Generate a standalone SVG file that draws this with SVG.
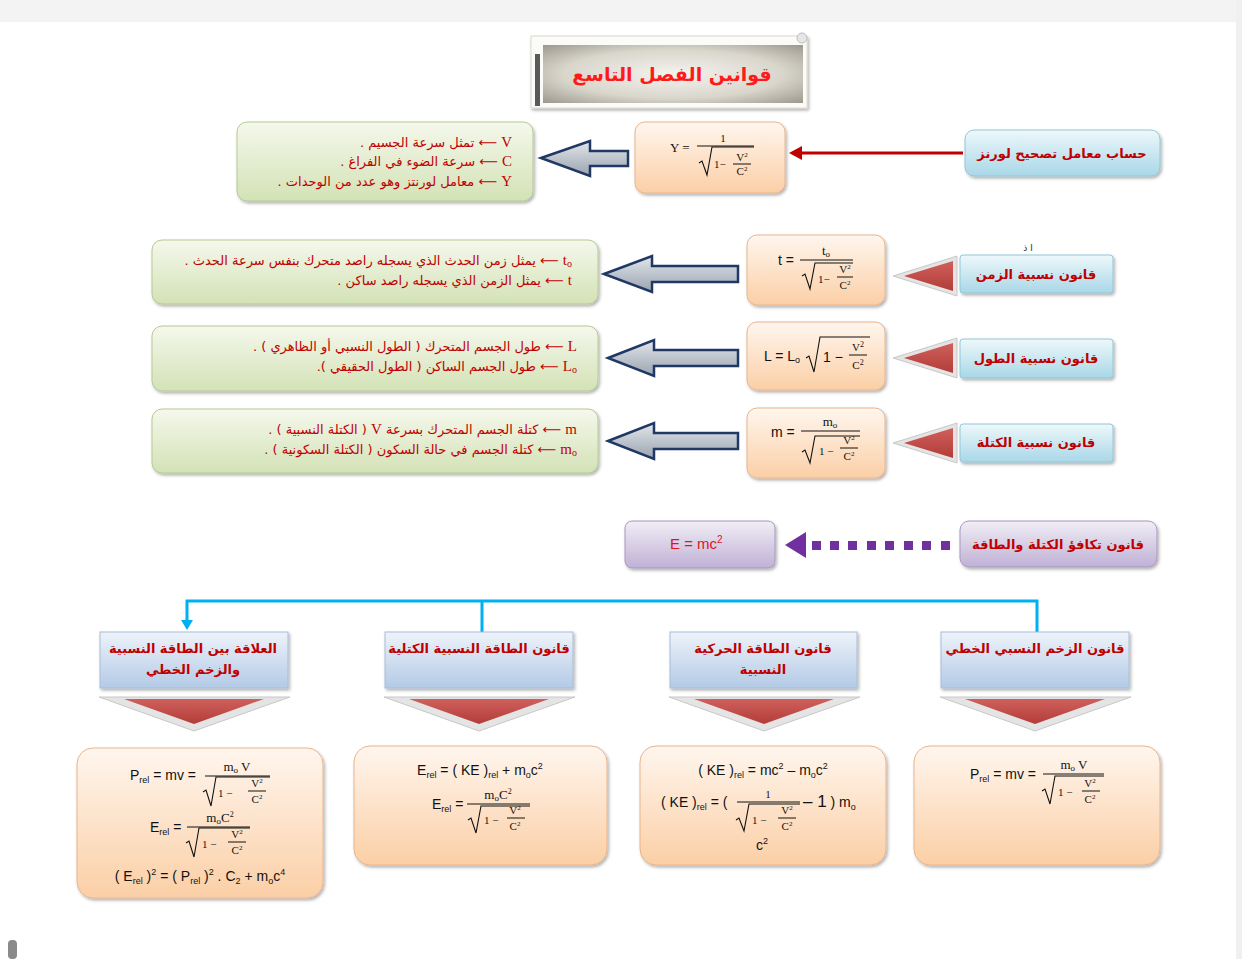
<svg xmlns="http://www.w3.org/2000/svg" width="1242" height="959" viewBox="0 0 1242 959">
<style>
.ar{font-family:"DejaVu Sans",sans-serif;}
.lbl{font-family:"DejaVu Sans",sans-serif;font-weight:bold;font-size:13px;fill:#c00000;text-anchor:middle;}
.desc{font-family:"DejaVu Sans",sans-serif;font-size:13px;fill:#c00000;}
.sym{font-family:"Liberation Serif",serif;font-size:15px;}
.f{font-family:"Liberation Sans",sans-serif;font-size:14px;fill:#111;}
.fs{font-family:"Liberation Serif",serif;font-size:13px;fill:#111;}
.fss{font-family:"Liberation Serif",serif;font-size:11px;fill:#111;}
.rad{fill:none;stroke:#111;stroke-width:1.1;}
.bar{stroke:#111;stroke-width:1;}
.peach{fill:url(#gPeach);stroke:#e9b48c;stroke-width:1;filter:url(#sh);}
.green{fill:url(#gGreen);stroke:#b7c994;stroke-width:1;filter:url(#sh);}
.blue{fill:url(#gBlue);stroke:#92c6d8;stroke-width:1;filter:url(#sh);}
.hdr{fill:url(#gHdr);stroke:#a7bcd8;stroke-width:1;filter:url(#sh);}
.purple{fill:url(#gPurple);stroke:#a897c0;stroke-width:1;filter:url(#sh);}
.hollow{fill:url(#gArrow);stroke:#1f3864;stroke-width:2.5;stroke-linejoin:miter;}
.tri-bg{fill:#e4e4e4;stroke:#c8c8c8;stroke-width:1;}
.tri{fill:url(#gRed);}
.conn{stroke:#00b0f0;stroke-width:3;fill:none;}
</style>
<defs>
<filter id="sh" x="-10%" y="-10%" width="125%" height="135%">
<feDropShadow dx="1.5" dy="2" stdDeviation="1.5" flood-color="#000" flood-opacity="0.3"/>
</filter>
<linearGradient id="gPeach" x1="0" y1="0" x2="0" y2="1"><stop offset="0" stop-color="#fff6ee"/><stop offset="1" stop-color="#fbcfa6"/></linearGradient>
<linearGradient id="gGreen" x1="0" y1="0" x2="0" y2="1"><stop offset="0" stop-color="#f5f8ec"/><stop offset="1" stop-color="#d3e2b6"/></linearGradient>
<linearGradient id="gBlue" x1="0" y1="0" x2="0" y2="1"><stop offset="0" stop-color="#eef8fb"/><stop offset="1" stop-color="#a9d7e7"/></linearGradient>
<linearGradient id="gHdr" x1="0" y1="0" x2="0" y2="1"><stop offset="0" stop-color="#eef3fa"/><stop offset="1" stop-color="#b3cae6"/></linearGradient>
<linearGradient id="gPurple" x1="0" y1="0" x2="0" y2="1"><stop offset="0" stop-color="#f1eef6"/><stop offset="1" stop-color="#bfb1d5"/></linearGradient>
<linearGradient id="gArrow" x1="0" y1="0" x2="0" y2="1"><stop offset="0" stop-color="#e3e6ea"/><stop offset="1" stop-color="#9aa3b0"/></linearGradient>
<linearGradient id="gRed" x1="0" y1="0" x2="0" y2="1"><stop offset="0" stop-color="#d0605c"/><stop offset="1" stop-color="#b23c38"/></linearGradient>
<radialGradient id="gTitle" cx="0.5" cy="0.5" r="0.7"><stop offset="0" stop-color="#f4f3ee"/><stop offset="0.6" stop-color="#d9d6cc"/><stop offset="1" stop-color="#9d998e"/></radialGradient>
</defs>

<!-- page -->
<rect x="0" y="0" width="1242" height="959" fill="#ffffff"/>
<rect x="0" y="0" width="1242" height="22" fill="#f3f3f3"/>
<rect x="1236" y="0" width="6" height="959" fill="#f0f0f0"/>
<rect x="8" y="940" width="9" height="19" rx="4" fill="#8a8a8a"/>

<!-- title -->
<g id="title">
<rect x="531" y="36" width="276" height="72" fill="#fbfbf8" stroke="#dcd8cf" stroke-width="1" filter="url(#sh)"/>
<rect x="543" y="45" width="260" height="58" fill="url(#gTitle)"/>
<rect x="535" y="54" width="5" height="52" fill="#5a5a5a"/>
<circle cx="802" cy="38" r="5" fill="#e6e6e6" stroke="#bdbdbd"/>
<text x="672" y="81" class="ar" direction="rtl" text-anchor="middle" font-size="19" font-weight="bold" fill="#ff1a1a">قوانين الفصل التاسع</text>
</g>

<!-- connectors -->
<g id="connectors">
<line x1="963" y1="153" x2="800" y2="153" stroke="#c00000" stroke-width="3"/>
<polygon points="789,153 802,146 802,160" fill="#c00000"/>
<polygon class="hollow" points="541,158 590,141 590,151 628,151 628,166 590,166 590,176"/>
<polygon class="hollow" points="604,274 652,256 652,266 738,266 738,282 652,282 652,292"/>
<polygon class="hollow" points="608,358 654,340 654,350 738,350 738,366 654,366 654,376"/>
<polygon class="hollow" points="608,441 654,423 654,433 738,433 738,449 654,449 654,459"/>
<polygon class="tri-bg" points="893,276 957,256 957,296"/>
<polygon class="tri" points="904,276 953,261 953,291"/>
<polygon class="tri-bg" points="893,358 957,338 957,378"/>
<polygon class="tri" points="904,358 953,343 953,373"/>
<polygon class="tri-bg" points="893,443 957,423 957,463"/>
<polygon class="tri" points="904,443 953,428 953,458"/>
<g fill="#7030a0">
<polygon points="785,545 806,532 806,558"/>
<rect x="812" y="541" width="9" height="9"/>
<rect x="830" y="541" width="9" height="9"/>
<rect x="848" y="541" width="9" height="9"/>
<rect x="867" y="541" width="9" height="9"/>
<rect x="885" y="541" width="9" height="9"/>
<rect x="904" y="541" width="9" height="9"/>
<rect x="922" y="541" width="9" height="9"/>
<rect x="941" y="541" width="9" height="9"/>
</g>
<polyline class="conn" points="187,622 187,601 1037,601 1037,632"/>
<line class="conn" x1="482" y1="601" x2="482" y2="632"/>
<polygon points="181,620 193,620 187,630" fill="#00b0f0"/>
<polygon class="tri-bg" points="99,697 290,697 194,731"/>
<polygon class="tri" points="124,699 264,699 194,724"/>
<polygon class="tri-bg" points="384,697 575,697 479,731"/>
<polygon class="tri" points="409,699 549,699 479,724"/>
<polygon class="tri-bg" points="669,697 860,697 764,731"/>
<polygon class="tri" points="694,699 834,699 764,724"/>
<polygon class="tri-bg" points="940,697 1131,697 1035,731"/>
<polygon class="tri" points="965,699 1105,699 1035,724"/>
</g>

<!-- row 1 -->
<g id="lorentz-label">
<rect class="blue" x="965" y="130" width="195" height="46" rx="9"/>
<text class="lbl" x="1062" y="158" direction="rtl">حساب معامل تصحيح لورنز</text>
</g>
<g id="lorentz-formula">
<rect class="peach" x="635" y="122" width="150" height="71" rx="10"/>
<text class="fs" x="670" y="152" font-size="15">Υ =</text>
<text class="fss" x="723" y="142" text-anchor="middle">1</text>
<path class="rad" d="M699,163 l3,-2 l5,14 l5,-28 h42"/>
<line class="bar" x1="697" y1="146" x2="754" y2="146"/>
<text class="fss" x="714" y="168">1−</text>
<text class="fss" x="742" y="161" text-anchor="middle" font-size="10">V<tspan baseline-shift="4" font-size="7">2</tspan></text>
<line class="bar" x1="733" y1="164" x2="751" y2="164"/>
<text class="fss" x="742" y="175" text-anchor="middle" font-size="10">C<tspan baseline-shift="4" font-size="7">2</tspan></text>
</g>
<g id="lorentz-desc">
<rect class="green" x="237" y="122" width="296" height="79" rx="10"/>
<text class="desc" x="512" y="147" direction="rtl" text-anchor="start"><tspan class="sym">V</tspan> ⟵ تمثل سرعة الجسيم .</text>
<text class="desc" x="512" y="166" direction="rtl" text-anchor="start"><tspan class="sym">C</tspan> ⟵ سرعة الضوء في الفراغ .</text>
<text class="desc" x="512" y="186" direction="rtl" text-anchor="start"><tspan class="sym">Υ</tspan> ⟵ معامل لورنتز وهو عدد من الوحدات .</text>
</g>

<!-- row 2 -->
<g id="time-label">
<text class="ar" x="1028" y="251" font-size="9" fill="#222" text-anchor="middle">ا ذ</text>
<rect class="blue" x="960" y="255" width="153" height="38" rx="3"/>
<text class="lbl" x="1036" y="279" direction="rtl">قانون نسبية الزمن</text>
</g>
<g id="time-formula">
<rect class="peach" x="747" y="235" width="138" height="70" rx="10"/>
<text class="f" x="778" y="265">t =</text>
<text class="fs" x="826" y="255" text-anchor="middle">t<tspan baseline-shift="-2" font-size="9">o</tspan></text>
<line class="bar" x1="800" y1="260" x2="853" y2="260"/>
<path class="rad" d="M802,276 l3,-2 l5,15 l5,-26 h38"/>
<text class="fss" x="818" y="283">1−</text>
<text class="fss" x="845" y="273" text-anchor="middle" font-size="10">V<tspan baseline-shift="4" font-size="7">2</tspan></text>
<line class="bar" x1="837" y1="277" x2="853" y2="277"/>
<text class="fss" x="845" y="289" text-anchor="middle" font-size="10">C<tspan baseline-shift="4" font-size="7">2</tspan></text>
</g>
<g id="time-desc">
<rect class="green" x="152" y="240" width="446" height="64" rx="10"/>
<text class="desc" x="572" y="265" direction="rtl" text-anchor="start"><tspan class="sym">t<tspan font-size="10" baseline-shift="-2">o</tspan></tspan> ⟵ يمثل زمن الحدث الذي يسجله راصد متحرك بنفس سرعة الحدث .</text>
<text class="desc" x="572" y="285" direction="rtl" text-anchor="start"><tspan class="sym">t</tspan> ⟵ يمثل الزمن الذي يسجله راصد ساكن .</text>
</g>

<!-- row 3 -->
<g id="length-label">
<rect class="blue" x="960" y="339" width="153" height="39" rx="3"/>
<text class="lbl" x="1036" y="363" direction="rtl">قانون نسبية الطول</text>
</g>
<g id="length-formula">
<rect class="peach" x="747" y="322" width="138" height="68" rx="10"/>
<text class="f" x="764" y="361">L = L<tspan baseline-shift="-2" font-size="9">o</tspan></text>
<path class="rad" d="M806,358 l3,-2 l5,16 l6,-35 h50"/>
<text class="f" x="823" y="362" font-size="18">1 −</text>
<text class="fss" x="858" y="351" text-anchor="middle" font-size="11">V<tspan baseline-shift="4" font-size="8">2</tspan></text>
<line class="bar" x1="849" y1="355" x2="867" y2="355"/>
<text class="fss" x="858" y="369" text-anchor="middle" font-size="11">C<tspan baseline-shift="4" font-size="8">2</tspan></text>
</g>
<g id="length-desc">
<rect class="green" x="152" y="326" width="446" height="65" rx="10"/>
<text class="desc" x="577" y="351" direction="rtl" text-anchor="start"><tspan class="sym">L</tspan>  ⟵ طول الجسم المتحرك ( الطول النسبي أو الظاهري ) .</text>
<text class="desc" x="577" y="371" direction="rtl" text-anchor="start"><tspan class="sym">L<tspan font-size="10" baseline-shift="-2">o</tspan></tspan> ⟵ طول الجسم الساكن ( الطول الحقيقي ).</text>
</g>

<!-- row 4 -->
<g id="mass-label">
<rect class="blue" x="960" y="424" width="153" height="38" rx="3"/>
<text class="lbl" x="1036" y="447" direction="rtl">قانون نسبية الكتلة</text>
</g>
<g id="mass-formula">
<rect class="peach" x="747" y="408" width="138" height="70" rx="10"/>
<text class="f" x="771" y="437">m =</text>
<text class="fs" x="830" y="426" text-anchor="middle">m<tspan baseline-shift="-2" font-size="9">o</tspan></text>
<line class="bar" x1="801" y1="431" x2="860" y2="431"/>
<path class="rad" d="M802,452 l3,-2 l5,13 l5,-27 h45"/>
<text class="fss" x="819" y="455">1  −</text>
<text class="fss" x="849" y="444" text-anchor="middle" font-size="10">V<tspan baseline-shift="4" font-size="7">2</tspan></text>
<line class="bar" x1="840" y1="448" x2="858" y2="448"/>
<text class="fss" x="849" y="460" text-anchor="middle" font-size="10">C<tspan baseline-shift="4" font-size="7">2</tspan></text>
</g>
<g id="mass-desc">
<rect class="green" x="152" y="409" width="446" height="64" rx="10"/>
<text class="desc" x="577" y="434" direction="rtl" text-anchor="start"><tspan class="sym">m</tspan>  ⟵  كتلة الجسم المتحرك بسرعة <tspan class="sym">V</tspan>  ( الكتلة النسبية ) .</text>
<text class="desc" x="577" y="454" direction="rtl" text-anchor="start"><tspan class="sym">m<tspan font-size="10" baseline-shift="-2">o</tspan></tspan> ⟵  كتلة الجسم في حالة السكون ( الكتلة السكونية ) .</text>
</g>

<!-- row 5 -->
<g id="equiv-label">
<rect class="purple" x="960" y="521" width="197" height="46" rx="9"/>
<text class="lbl" x="1058" y="549" direction="rtl">قانون تكافؤ الكتلة والطاقة</text>
</g>
<g id="equiv-formula">
<rect class="purple" x="625" y="521" width="150" height="47" rx="7"/>
<text x="670" y="549" font-family="Liberation Sans, sans-serif" font-size="15" fill="#e0141e">E = mc<tspan baseline-shift="6" font-size="10">2</tspan></text>
</g>

<!-- headers -->
<g id="hdr-a">
<rect class="hdr" x="100" y="632" width="188" height="56"/>
<text class="lbl" x="193" y="653" direction="rtl">العلاقة بين الطاقة النسبية</text>
<text class="lbl" x="193" y="674" direction="rtl">والزخم الخطي</text>
</g>
<g id="hdr-b">
<rect class="hdr" x="385" y="632" width="188" height="56"/>
<text class="lbl" x="479" y="653" direction="rtl">قانون الطاقة النسبية الكتلية</text>
</g>
<g id="hdr-c">
<rect class="hdr" x="670" y="632" width="187" height="56"/>
<text class="lbl" x="763" y="653" direction="rtl">قانون الطاقة الحركية</text>
<text class="lbl" x="763" y="674" direction="rtl">النسبية</text>
</g>
<g id="hdr-d">
<rect class="hdr" x="941" y="632" width="188" height="56"/>
<text class="lbl" x="1035" y="653" direction="rtl">قانون الزخم النسبي الخطي</text>
</g>

<!-- bottom formula boxes -->
<g id="box-a">
<rect class="peach" x="77" y="748" width="246" height="150" rx="16"/>
<text class="f" x="130" y="780">P<tspan baseline-shift="-3" font-size="9">rel</tspan> = mv =</text>
<text class="fs" x="237" y="771" text-anchor="middle">m<tspan baseline-shift="-2" font-size="9">o</tspan> V</text>
<line class="bar" x1="205" y1="776" x2="270" y2="776"/>
<path class="rad" d="M203,792 l3,-2 l5,16 l5,-29 h54"/>
<text class="fss" x="218" y="797">1  −</text>
<text class="fss" x="257" y="787" text-anchor="middle" font-size="10">V<tspan baseline-shift="4" font-size="7">2</tspan></text>
<line class="bar" x1="248" y1="791" x2="266" y2="791"/>
<text class="fss" x="257" y="803" text-anchor="middle" font-size="10">C<tspan baseline-shift="4" font-size="7">2</tspan></text>

<text class="f" x="150" y="832">E<tspan baseline-shift="-3" font-size="9">rel</tspan> =</text>
<text class="fs" x="220" y="822" text-anchor="middle">m<tspan baseline-shift="-2" font-size="9">o</tspan>C<tspan baseline-shift="5" font-size="8">2</tspan></text>
<line class="bar" x1="187" y1="827" x2="250" y2="827"/>
<path class="rad" d="M186,843 l3,-2 l5,16 l5,-29 h51"/>
<text class="fss" x="202" y="848">1  −</text>
<text class="fss" x="237" y="838" text-anchor="middle" font-size="10">V<tspan baseline-shift="4" font-size="7">2</tspan></text>
<line class="bar" x1="228" y1="842" x2="246" y2="842"/>
<text class="fss" x="237" y="854" text-anchor="middle" font-size="10">C<tspan baseline-shift="4" font-size="7">2</tspan></text>

<text class="f" x="200" y="881" text-anchor="middle">( E<tspan baseline-shift="-3" font-size="9">rel</tspan> )<tspan baseline-shift="6" font-size="9">2</tspan> = ( P<tspan baseline-shift="-3" font-size="9">rel</tspan> )<tspan baseline-shift="6" font-size="9">2</tspan> . C<tspan baseline-shift="-3" font-size="9">2</tspan>  + m<tspan baseline-shift="-3" font-size="9">o</tspan>c<tspan baseline-shift="6" font-size="9">4</tspan></text>
</g>

<g id="box-b">
<rect class="peach" x="354" y="746" width="253" height="119" rx="16"/>
<text class="f" x="480" y="775" text-anchor="middle">E<tspan baseline-shift="-3" font-size="9">rel</tspan> = ( KE )<tspan baseline-shift="-3" font-size="9">rel</tspan> + m<tspan baseline-shift="-3" font-size="9">o</tspan>c<tspan baseline-shift="6" font-size="9">2</tspan></text>
<text class="f" x="432" y="809">E<tspan baseline-shift="-3" font-size="9">rel</tspan> =</text>
<text class="fs" x="498" y="799" text-anchor="middle">m<tspan baseline-shift="-2" font-size="9">o</tspan>C<tspan baseline-shift="5" font-size="8">2</tspan></text>
<line class="bar" x1="467" y1="804" x2="530" y2="804"/>
<path class="rad" d="M468,820 l3,-2 l5,15 l5,-27 h49"/>
<text class="fss" x="484" y="824">1 −</text>
<text class="fss" x="515" y="814" text-anchor="middle" font-size="10">V<tspan baseline-shift="4" font-size="7">2</tspan></text>
<line class="bar" x1="507" y1="818" x2="525" y2="818"/>
<text class="fss" x="515" y="830" text-anchor="middle" font-size="10">C<tspan baseline-shift="4" font-size="7">2</tspan></text>
</g>

<g id="box-c">
<rect class="peach" x="640" y="746" width="246" height="119" rx="16"/>
<text class="f" x="763" y="775" text-anchor="middle">( KE )<tspan baseline-shift="-3" font-size="9">rel</tspan> = mc<tspan baseline-shift="6" font-size="9">2</tspan> – m<tspan baseline-shift="-3" font-size="9">o</tspan>c<tspan baseline-shift="6" font-size="9">2</tspan></text>
<text class="f" x="661" y="807">( KE )<tspan baseline-shift="-3" font-size="9">rel</tspan> = (</text>
<text class="fss" x="768" y="798" text-anchor="middle" font-size="12">1</text>
<line class="bar" x1="737" y1="802" x2="800" y2="802"/>
<path class="rad" d="M736,820 l3,-2 l5,13 l5,-27 h51"/>
<text class="fss" x="752" y="824">1  −</text>
<text class="fss" x="787" y="814" text-anchor="middle" font-size="10">V<tspan baseline-shift="4" font-size="7">2</tspan></text>
<line class="bar" x1="778" y1="818" x2="796" y2="818"/>
<text class="fss" x="787" y="830" text-anchor="middle" font-size="10">C<tspan baseline-shift="4" font-size="7">2</tspan></text>
<text class="f" x="803" y="807"><tspan font-size="17">– 1</tspan> ) m<tspan baseline-shift="-3" font-size="9">o</tspan></text>
<text class="f" x="762" y="850" text-anchor="middle">c<tspan baseline-shift="6" font-size="9">2</tspan></text>
</g>

<g id="box-d">
<rect class="peach" x="914" y="746" width="246" height="119" rx="16"/>
<text class="f" x="970" y="779">P<tspan baseline-shift="-3" font-size="9">rel</tspan> = mv =</text>
<text class="fs" x="1074" y="769" text-anchor="middle">m<tspan baseline-shift="-2" font-size="9">o</tspan> V</text>
<line class="bar" x1="1043" y1="774" x2="1104" y2="774"/>
<path class="rad" d="M1042,791 l3,-2 l5,15 l5,-28 h49"/>
<text class="fss" x="1058" y="796">1 −</text>
<text class="fss" x="1090" y="787" text-anchor="middle" font-size="10">V<tspan baseline-shift="4" font-size="7">2</tspan></text>
<line class="bar" x1="1082" y1="791" x2="1100" y2="791"/>
<text class="fss" x="1090" y="803" text-anchor="middle" font-size="10">C<tspan baseline-shift="4" font-size="7">2</tspan></text>
</g>
</svg>
